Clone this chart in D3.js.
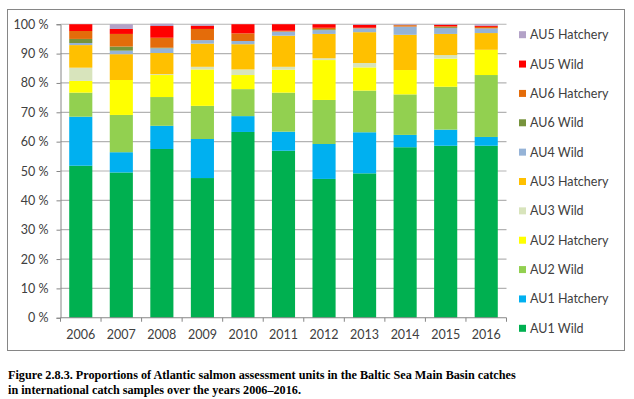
<!DOCTYPE html>
<html>
<head>
<meta charset="utf-8">
<script src="https://cdn.jsdelivr.net/npm/d3@7"></script>
<style>
  body { margin: 0; background: #fff; }
  text { font-family: Lato, "Open Sans", sans-serif; fill: #404040; }
  .caption { font-family: "Liberation Serif", "DejaVu Serif", serif; font-weight: bold; fill: #000; }
</style>
</head>
<body>
<svg id="chart"></svg>
<script>
// years on the x axis
const years = ["2006", "2007", "2008", "2009", "2010", "2011", "2012", "2013", "2014", "2015", "2016"];

// stack order, bottom to top
const units = ["AU1 Wild", "AU1 Hatchery", "AU2 Wild", "AU2 Hatchery", "AU3 Wild", "AU3 Hatchery",
               "AU4 Wild", "AU6 Wild", "AU6 Hatchery", "AU5 Wild", "AU5 Hatchery"];

// percentages per unit, one value per year
const au1Wild      = [51.8, 49.5, 57.5, 47.6, 63.3, 56.9, 47.3, 49.2, 58.1, 58.6, 58.6];
const au1Hatchery  = [16.7,  6.9,  7.9, 13.3,  5.4,  6.5, 11.9, 14.0,  4.2,  5.5,  3.0];
const au2Wild      = [ 8.2, 12.7,  9.8, 11.3,  9.2, 13.3, 15.0, 14.2, 13.8, 14.6, 21.1];
const au2Hatchery  = [ 4.0, 11.9,  7.5, 12.4,  4.8,  7.8, 13.6,  7.9,  8.3,  9.6,  8.6];
const au3Wild      = [ 4.5,  0.0,  0.3,  0.9,  1.9,  1.0,  0.6,  1.5,  0.0,  1.2,  0.0];
const au3Hatchery  = [ 7.7,  8.8,  7.2,  7.9,  8.6, 10.6,  8.3, 10.5, 12.0,  7.2,  5.7];
const au4Wild      = [ 0.7,  1.2,  1.6,  1.2,  1.1,  1.4,  1.3,  1.3,  2.8,  2.0,  1.6];
const au6Wild      = [ 1.4,  1.4,  0.2,  0.0,  0.0,  0.0,  0.3,  0.0,  0.0,  0.3,  0.0];
const au6Hatchery  = [ 2.7,  4.3,  3.4,  3.8,  2.6,  0.3,  0.5,  0.2,  0.5,  0.3,  0.5];
const au5Wild      = [ 2.3,  1.7,  4.0,  1.1,  3.1,  2.2,  1.2,  1.0,  0.0,  0.5,  0.4];
const au5Hatchery  = [ 0.0,  1.6,  0.8,  0.5,  0.0,  0.0,  0.0,  0.2,  0.3,  0.2,  0.5];

const series = [au1Wild, au1Hatchery, au2Wild, au2Hatchery, au3Wild, au3Hatchery,
                au4Wild, au6Wild, au6Hatchery, au5Wild, au5Hatchery];

const colors = ["#00B050", "#00B0F0", "#92D050", "#FFFF00", "#D8E4BC", "#FFC000",
                "#95B3D7", "#77933C", "#E46C0A", "#FF0000", "#B3A2C7"];

const yTicks = [0, 10, 20, 30, 40, 50, 60, 70, 80, 90, 100];

const width = 634, height = 399;
const margin = {left: 60.5, right: 127.5, top: 24.25, bottom: 81.25};

const svg = d3.select("#chart")
    .attr("width", width)
    .attr("height", height);

// outer frame of the chart
svg.append("rect")
    .attr("x", 7.5).attr("y", 9.5)
    .attr("width", 617).attr("height", 341)
    .attr("fill", "none")
    .attr("stroke", "#868686");

// build table: one row per year
let table = years.map((y, i) => {
  let row = {year: y};
  units.forEach((u, k) => row[u] = series[k][i]);
  return row;
});

let stacked = d3.stack().keys(units)(table);

let x = d3.scaleBand()
    .domain(years)
    .range([margin.left, width - margin.right])
    .paddingInner(0.43)
    .paddingOuter(0.215);

let y = d3.scaleLinear()
    .domain([0, 100])
    .range([height - margin.bottom, margin.top]);

// horizontal gridlines
svg.append("g")
    .selectAll("line")
    .data(yTicks.filter(t => t > 0))
    .join("line")
      .attr("x1", margin.left)
      .attr("x2", width - margin.right)
      .attr("y1", d => y(d))
      .attr("y2", d => y(d))
      .attr("stroke", "#b3b3b3")
      .attr("stroke-width", 1.2);

// bars
svg.append("g")
    .selectAll("g")
    .data(stacked)
    .join("g")
      .attr("fill", (d, i) => colors[i])
    .selectAll("rect")
    .data(d => d)
    .join("rect")
      .attr("x", d => x(d.data.year))
      .attr("width", x.bandwidth())
      .attr("y", d => y(d[1]))
      .attr("height", d => y(d[0]) - y(d[1]));

// y axis
let yAxis = svg.append("g")
    .attr("transform", `translate(${margin.left},0)`)
    .call(d3.axisLeft(y).tickValues(yTicks).tickSize(4).tickPadding(8)
           .tickFormat(d => d + " %"));
yAxis.select(".domain").attr("stroke", "#868686");
yAxis.selectAll(".tick line").attr("stroke", "#868686");
yAxis.selectAll("text").attr("font-size", "12.5px").attr("fill", "#404040");

// x axis: ticks sit between categories
let xAxisG = svg.append("g")
    .attr("transform", `translate(0,${y(0)})`);
xAxisG.append("line")
    .attr("x1", margin.left).attr("x2", width - margin.right)
    .attr("stroke", "#868686");
let step = x.step();
xAxisG.selectAll(".sep")
    .data(d3.range(years.length + 1))
    .join("line")
      .attr("x1", i => margin.left + i * step)
      .attr("x2", i => margin.left + i * step)
      .attr("y1", 0).attr("y2", 4)
      .attr("stroke", "#868686");
xAxisG.selectAll(".lbl")
    .data(years)
    .join("text")
      .attr("x", d => x(d) + x.bandwidth() / 2)
      .attr("y", 21)
      .attr("text-anchor", "middle")
      .attr("font-size", "12.5px")
      .text(d => d);

// legend, top to bottom is reverse of the stack
let legend = svg.append("g")
    .selectAll("g")
    .data(units.slice().reverse())
    .join("g")
      .attr("transform", (d, i) => `translate(519,${34.7 + i * 29.36})`);
legend.append("rect")
    .attr("x", 0).attr("y", -3.5)
    .attr("width", 7).attr("height", 7)
    .attr("fill", d => colors[units.indexOf(d)]);
legend.append("text")
    .attr("x", 11)
    .attr("y", 4.5)
    .attr("font-size", "12.5px")
    .text(d => d);

// figure caption
svg.append("text")
    .attr("class", "caption")
    .attr("x", 8).attr("y", 379)
    .attr("font-size", "12.2px")
    .text("Figure 2.8.3. Proportions of Atlantic salmon assessment units in the Baltic Sea Main Basin catches");
svg.append("text")
    .attr("class", "caption")
    .attr("x", 8).attr("y", 394)
    .attr("font-size", "12.2px")
    .text("in international catch samples over the years 2006–2016.");
</script>
</body>
</html>
